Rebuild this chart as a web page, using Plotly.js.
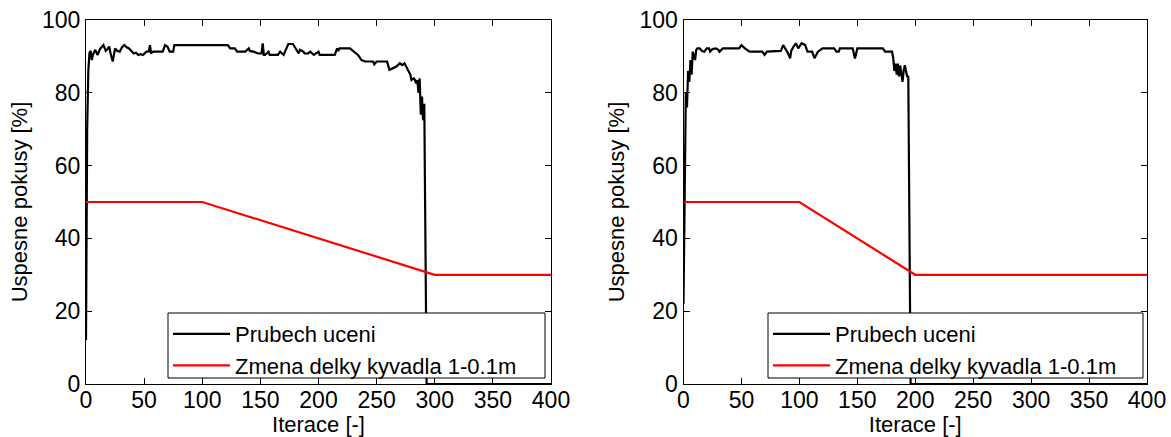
<!DOCTYPE html>
<html>
<head>
<meta charset="utf-8">
<script src="https://cdn.plot.ly/plotly-3.0.1.min.js"></script>
<style>html,body{margin:0;padding:0;background:#fff;}#chart{width:1171px;height:437px;}</style>
</head>
<body>
<div id="chart"></div>
<script>
// Left panel: learning progress (black) and pendulum length change (red)
const leftLearnX = [0,1,2,3,4,5,6,8,10,12,15,17,18,20,21,23,25,27,29,31,33,35,37,39,41,43,45,47,49,52,54,55,56,58,66,68,70,72,75,76,122,124,128,130,137,140,141,144,148,151,152,153,154,157,158,165,167,170,171,174,178,181,183,184,187,188,191,193,196,200,201,214,216,217,218,227,231,234,237,240,247,248,250,259,261,264,267,270,272,274,277,279,280,282,283,284,285,286,287,288,289,290,291,292,293,400];
const leftLearnY = [12,70,86,91,91.5,89,90.5,91.8,90.4,92,93.1,91.5,91.8,92.7,91,88.6,92.2,91.5,91.3,92.5,93.1,92.5,92.2,91.5,90.8,91,90.4,90.6,90.4,91.3,91.3,93.1,91,91.3,91.3,93.1,92.7,91.3,91.3,93.1,93.1,92.2,92.2,91.3,91.3,92.2,91.5,91.3,90.8,90.8,93.6,90.4,90.4,91.3,90.4,90.4,91.3,90.4,91.3,93.4,93.4,91.8,90.8,91.8,91.3,90.8,90.8,91.3,90.4,91.3,90.4,90.4,92.2,91.5,92.2,92.2,91.3,90.4,89,88.6,88.6,87.8,88.6,88.6,86.3,86.8,87.2,88.1,87.6,88.1,86.3,85,83.5,84,83.5,82.6,83.5,80,84,74,79,72.5,77,40,0,0];
const leftLenX = [0,100,300,400];
const leftLenY = [50,50,30,30];

// Right panel
const rightLearnX = [0,1,2,3,4,5,6,7,8,10,11,12,14,16,18,20,22,23,25,28,30,31,34,48,50,53,57,68,70,72,80,84,86,88,90,92,93,95,97,99,102,105,107,111,113,116,120,130,132,134,135,146,148,150,172,174,180,181,182,183,184,185,186,187,188,189,190,191,192,193,194,195,196,400];
const rightLearnY = [22,60,80,76,86,83,89,85,91.3,89,91.8,92.2,92.2,91.5,91.3,92.2,92.2,91.3,92,92.2,91.8,91.3,92.2,92.2,93.1,92.2,91.3,91.3,90.4,91.3,91.3,91.5,93.1,92.2,91,89.5,91.5,92.7,93.6,92.2,93.6,93.1,91.3,91.3,89.5,91.3,92.2,92.2,91.3,91.3,92.2,92.2,89.4,92.2,92.2,91.3,91.3,89.5,86,88,85,88,84.5,87.5,85,83,86,87.6,86,84.5,84.4,43,0,0];
const rightLenX = [0,100,200,400];
const rightLenY = [50,50,30,30];

const seriesNames = ['Prubech uceni', 'Zmena delky kyvadla 1-0.1m'];
const xTicks = [0,50,100,150,200,250,300,350,400];
const yTicks = [0,20,40,60,80,100];
const xTitle = 'Iterace [-]';
const yTitle = 'Uspesne pokusy [%]';

const W = 1171, H = 437;
const FONT = 'Liberation Sans, Arial, sans-serif';

const traces = [
  {x: leftLearnX, y: leftLearnY, name: seriesNames[0], mode: 'lines', line: {color: '#000', width: 2.2}, xaxis: 'x', yaxis: 'y', legend: 'legend'},
  {x: leftLenX, y: leftLenY, name: seriesNames[1], mode: 'lines', line: {color: '#ff0000', width: 2.2}, xaxis: 'x', yaxis: 'y', legend: 'legend'},
  {x: rightLearnX, y: rightLearnY, name: seriesNames[0], mode: 'lines', line: {color: '#000', width: 2.2}, xaxis: 'x2', yaxis: 'y2', legend: 'legend2'},
  {x: rightLenX, y: rightLenY, name: seriesNames[1], mode: 'lines', line: {color: '#ff0000', width: 2.2}, xaxis: 'x2', yaxis: 'y2', legend: 'legend2'}
];

function xa(domain, anchor) {
  return {domain: domain, anchor: anchor, range: [0, 400], tickvals: xTicks, ticktext: xTicks.map(String),
    ticks: 'inside', ticklen: 6, tickcolor: '#000', showline: true, linecolor: '#000', linewidth: 1, mirror: 'ticks',
    showgrid: false, zeroline: false, tickfont: {family: FONT, size: 23, color: '#000'}, ticklabelstandoff: -5,
    title: {text: xTitle, font: {family: FONT, size: 22, color: '#000'}, standoff: 3}, automargin: false};
}
function ya(domain, anchor) {
  return {domain: domain, anchor: anchor, range: [0, 100], tickvals: yTicks, ticktext: yTicks.map(String),
    ticks: 'inside', ticklen: 6, tickcolor: '#000', showline: true, linecolor: '#000', linewidth: 1, mirror: 'ticks',
    showgrid: false, zeroline: false, tickfont: {family: FONT, size: 23, color: '#000'},
    title: {text: yTitle, font: {family: FONT, size: 22, color: '#000'}, standoff: 8}, automargin: false};
}
const yDom = [1 - 384/H, 1 - 20/H];
const legendStyle = (xl) => ({x: xl/W, xanchor: 'left', y: 1 - 313/H, yanchor: 'top', bgcolor: 'rgba(0,0,0,0)',
  borderwidth: 0, itemwidth: 57, font: {family: FONT, size: 22, color: '#000'}, tracegroupgap: 0});
const boxShape = (x0, x1) => ({type: 'rect', xref: 'paper', yref: 'paper', x0: x0/W, x1: x1/W,
  y0: 1 - 378/H, y1: 1 - 313/H, fillcolor: '#fff', line: {color: '#000', width: 1}, layer: 'above'});

const layout = {
  width: W, height: H, margin: {l: 0, r: 0, t: 0, b: 0}, paper_bgcolor: '#fff', plot_bgcolor: '#fff',
  showlegend: true, font: {family: FONT, color: '#000'},
  xaxis: xa([86/W, 551/W], 'y'), yaxis: ya(yDom, 'x'),
  xaxis2: xa([683.5/W, 1147/W], 'y2'), yaxis2: ya(yDom, 'x2'),
  legend: legendStyle(168), legend2: legendStyle(768),
  shapes: [boxShape(168, 545), boxShape(768, 1143)]
};
Plotly.newPlot('chart', traces, layout, {displayModeBar: false, staticPlot: true});
</script>
</body>
</html>
